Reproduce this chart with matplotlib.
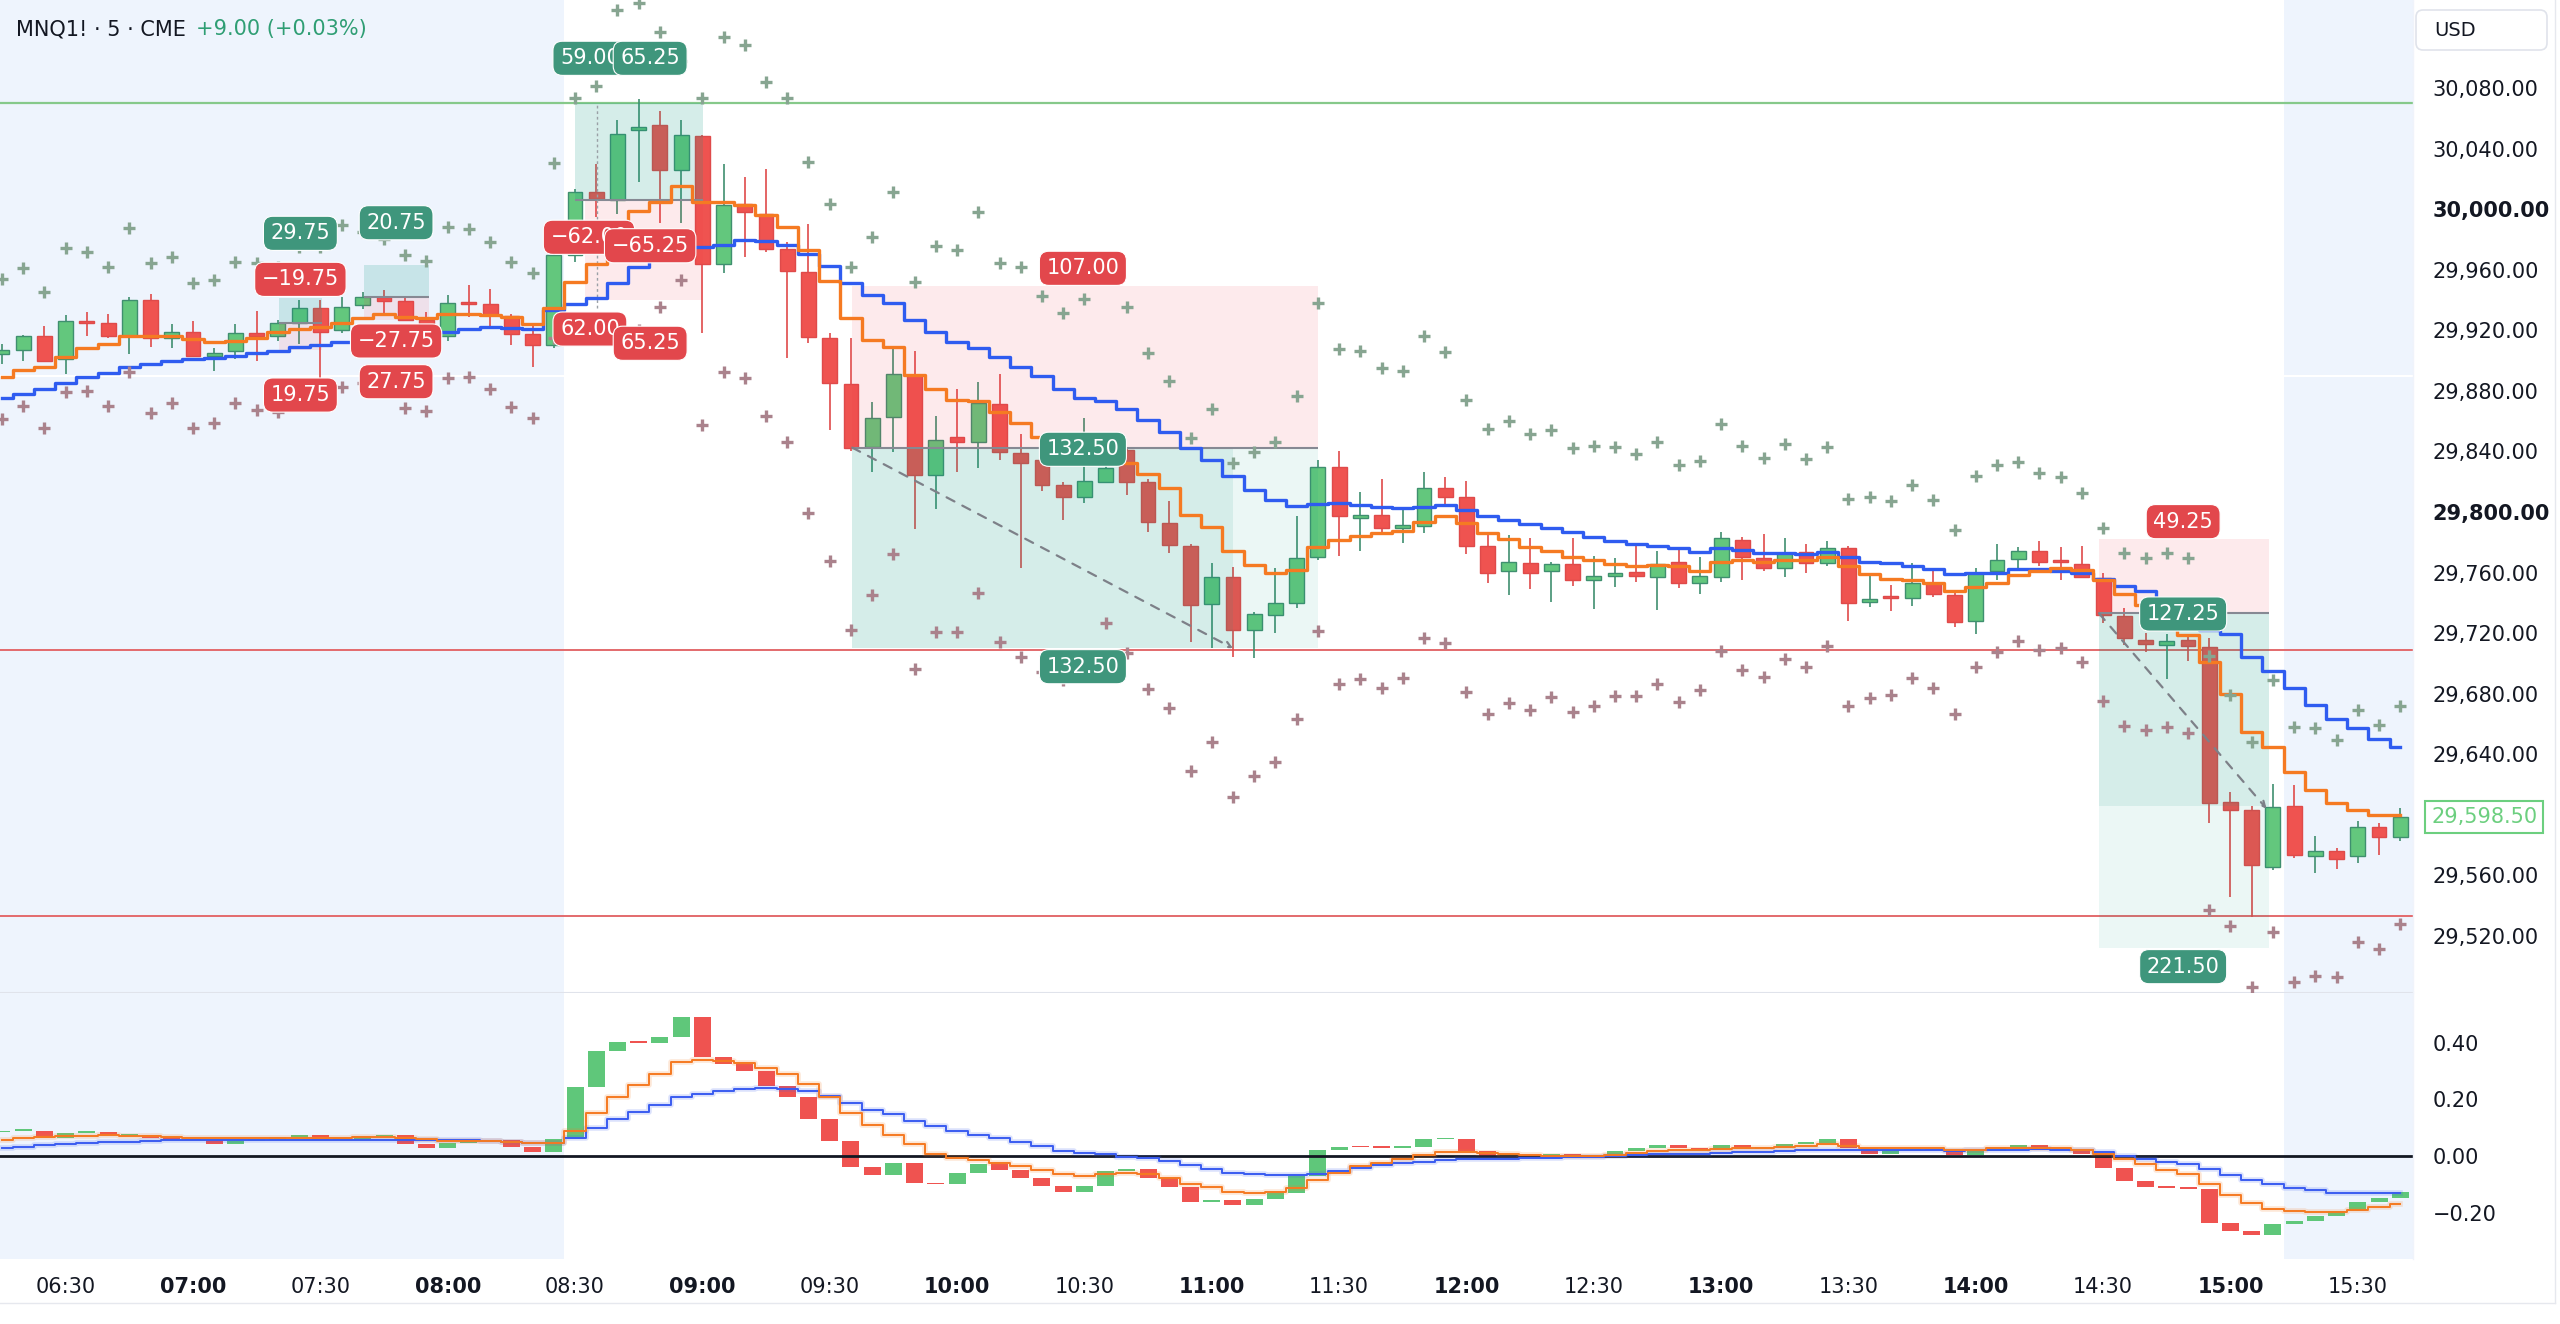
import numpy as np
import matplotlib
matplotlib.use("Agg")
import matplotlib.pyplot as plt
from matplotlib.patches import Rectangle, FancyBboxPatch

# 5 minute candles, 06:15 .. 15:40
opens = [29904, 29907, 29916, 29901, 29926, 29925, 29916, 29940, 29915, 29919,
         29903, 29906, 29918.5, 29916, 29925, 29934.5, 29920, 29936.5, 29942, 29939,
         29927, 29916, 29938.25, 29937.5, 29929.5, 29917.5, 29910, 29970, 30011, 30006,
         30052, 30055.5, 30026, 30048, 29964, 30003.5, 29997, 29973.5, 29958.75, 29914.75,
         29884.5, 29843, 29863, 29890.5, 29824.5, 29849.25, 29846.5, 29871.25, 29839.25, 29834,
         29817.5, 29809.75, 29820, 29841, 29820, 29793, 29777.5, 29739.25, 29757.25, 29722,
         29732, 29739.75, 29770.5, 29829.5, 29796.25, 29798, 29789.5, 29790.75, 29815.5, 29809.75,
         29777.5, 29761, 29766.5, 29761, 29765.5, 29755, 29758, 29760.5, 29756.75, 29767,
         29752.75, 29756.75, 29781.5, 29769.75, 29762.75, 29773.25, 29766, 29776, 29740.75, 29743.5,
         29743, 29752.75, 29745, 29728.25, 29761.25, 29768.75, 29774.5, 29767.5, 29765.5, 29756.5,
         29731, 29715.5, 29712, 29715.5, 29711, 29608.25, 29603.25, 29565.25, 29605.75, 29572.75,
         29575.75, 29572.75, 29592.25, 29585.5]
highs = [29911, 29917, 29923, 29930, 29932, 29931, 29942, 29944, 29924, 29926,
         29908, 29924, 29933, 29927, 29940, 29940, 29942, 29945, 29946.5, 29942,
         29932, 29943.5, 29950, 29947, 29931, 29922.5, 29972, 30013, 30030, 30059,
         30072.75, 30065, 30059, 30049, 30030, 30021, 30026.25, 29978.5, 29990, 29918.5,
         29914.75, 29872.75, 29907.5, 29906, 29863.5, 29881.5, 29886, 29891, 29851.25, 29836,
         29820, 29861.75, 29832, 29843, 29822, 29807.5, 29779, 29766, 29763.5, 29734.25,
         29762.75, 29797, 29834, 29840.5, 29813, 29821.75, 29803, 29826.25, 29823, 29820.5,
         29787, 29784.75, 29782.5, 29767, 29782.5, 29771, 29769.75, 29779.25, 29774.5, 29775.25,
         29770.5, 29786.5, 29783.75, 29785.5, 29782.5, 29778.75, 29781, 29777.5, 29759.5, 29751.75,
         29766.5, 29762.75, 29747.25, 29763.25, 29778.75, 29777, 29780.75, 29777, 29777.75, 29760,
         29736.5, 29720.25, 29719.5, 29719.5, 29716.5, 29615.25, 29605.5, 29620.5, 29619.75, 29586,
         29578, 29596, 29594.75, 29604.75]
lows = [29898, 29900, 29899, 29891, 29916, 29915, 29904, 29909, 29908, 29902,
        29893, 29901, 29900, 29913, 29911, 29866, 29918, 29934, 29931, 29926,
        29914, 29913, 29929, 29922, 29910, 29896, 29908, 29965, 29995, 29997,
        30018, 29990.5, 29990.5, 29918, 29957.5, 29968.5, 29972, 29901.5, 29911.5, 29854,
        29840, 29826.5, 29839.75, 29789, 29802, 29826.5, 29828.75, 29834.25, 29762.75, 29814,
        29794.75, 29805.75, 29819, 29811.25, 29787, 29772.75, 29714.25, 29710, 29704.5, 29703.25,
        29720.25, 29736.5, 29768, 29771, 29774.25, 29784.75, 29779.25, 29786.25, 29803.5, 29772,
        29752.75, 29745, 29749, 29740.75, 29751.25, 29736, 29750.5, 29754, 29735.25, 29749.5,
        29745.75, 29753.5, 29755, 29761, 29756.75, 29760, 29764, 29728.25, 29737, 29734.75,
        29738, 29743.5, 29724.25, 29719.5, 29754.75, 29762, 29764.25, 29755, 29756.25, 29726.5,
        29712, 29707.75, 29690, 29701.5, 29594.5, 29546, 29532.75, 29563.5, 29571.75, 29561.25,
        29564, 29568, 29573.5, 29582.75]
closes = [29907, 29916, 29900, 29926, 29925, 29916, 29940, 29915, 29919, 29903,
          29905, 29918, 29916, 29925, 29934.5, 29919, 29935.5, 29942, 29939.5, 29927,
          29916, 29938, 29937.5, 29930, 29917.5, 29910, 29970, 30011.5, 30006.5, 30049.5,
          30054.5, 30026, 30049, 29964, 30002.75, 29998.25, 29973.5, 29959.25, 29915.25, 29885,
          29842, 29862.25, 29891, 29824.5, 29847.5, 29846.5, 29871.75, 29839.75, 29832.5, 29817.75,
          29810, 29820.75, 29828.75, 29820, 29793.5, 29778.25, 29738.5, 29757.25, 29722, 29732.5,
          29739.75, 29769.5, 29829.5, 29797, 29798, 29789.25, 29791.25, 29815.5, 29809.75, 29777.5,
          29760, 29767, 29759.5, 29765.5, 29755, 29757.75, 29760, 29757.75, 29765.5, 29752.75,
          29757.75, 29782.5, 29770, 29762.75, 29773, 29766.5, 29776.5, 29740, 29742.5, 29743,
          29753.25, 29745.5, 29727, 29760, 29768.25, 29774.5, 29767.25, 29767, 29757.25, 29732,
          29716.5, 29712.5, 29715, 29711.75, 29607.5, 29603.25, 29566.75, 29605, 29573.5, 29575.75,
          29570.5, 29592.25, 29585, 29598.5]

# moving averages (step lines)
ma_fast = [29889, 29894, 29896, 29902, 29908, 29911, 29916, 29916, 29916, 29914,
           29912, 29913, 29915, 29919, 29921, 29922, 29925, 29928, 29931, 29929,
           29928, 29931, 29931, 29930, 29929, 29924, 29935, 29952, 29964, 29984,
           29999, 30005, 30015, 30005, 30004.5, 30002.5, 29996, 29988.5, 29973, 29952.5,
           29928, 29913.5, 29909, 29890.5, 29881.5, 29874, 29873, 29866, 29858.5, 29849.5,
           29845, 29840, 29836, 29832, 29825, 29815.5, 29798, 29790, 29774, 29765,
           29759.5, 29761.5, 29777, 29781.5, 29784, 29786, 29787.5, 29793.5, 29797.5, 29793,
           29786, 29782, 29777, 29774, 29770.5, 29768, 29765.5, 29764.5, 29765, 29764,
           29761, 29767, 29768, 29767, 29768, 29768, 29770.5, 29764, 29759, 29756,
           29755, 29753, 29747.5, 29750.5, 29753, 29758.5, 29761, 29763, 29761.5, 29755,
           29746, 29738.5, 29728, 29718.5, 29701, 29680, 29655, 29645, 29628.5, 29616.5,
           29607.5, 29603, 29600, 29600]
ma_slow = [29875, 29878, 29881, 29885, 29889, 29891.5, 29896, 29898, 29900, 29901,
           29901.5, 29903, 29905, 29906.5, 29909, 29910, 29912.5, 29913, 29914, 29915,
           29917, 29919, 29921, 29922, 29921.5, 29921, 29933.5, 29937.5, 29941, 29951,
           29962, 29967, 29971, 29975, 29976.5, 29979.5, 29979, 29976.5, 29970.5, 29962.5,
           29951, 29943.5, 29938, 29927, 29919, 29912.5, 29908, 29902, 29896, 29889.5,
           29881, 29875, 29873, 29868, 29860.5, 29853, 29842, 29834.5, 29823.5, 29814.5,
           29808, 29804, 29805.5, 29806, 29804.5, 29803, 29802.5, 29803.5, 29804.5, 29801.5,
           29797.5, 29795, 29792, 29789.5, 29786.5, 29783.5, 29781, 29779, 29777.5, 29776,
           29773.5, 29776, 29775, 29773, 29773, 29772.5, 29773.5, 29770, 29767, 29766,
           29764, 29762, 29759, 29759.5, 29760, 29762, 29762, 29761, 29759.5, 29755.5,
           29751, 29747.5, 29738, 29730, 29722, 29719.5, 29704.5, 29695, 29683.5, 29672.5,
           29663.5, 29657, 29650, 29645]

# band crosses above / below price
band_up = [29953.6, 29961, 29945.5, 29974, 29972, 29962, 29987.3, 29964.3, 29968.5, 29951,
           29953.2, 29965.3, 29964.5, 29962, 29975, 29975, 29989.5, 29985, 29980, 29969.7,
           29966, 29988.4, 29986.6, 29978.1, 29965.3, 29958, 30030.2, 30073.6, 30081.3, 30131.5,
           30136.3, 30117.2, 30098, 30073.2, 30113.9, 30108.4, 30083.7, 30073.2, 30031.3, 30003.2,
           29962, 29981.4, 30011.5, 29951.6, 29975.9, 29973, 29997.9, 29964.2, 29962, 29942.6,
           29931.6, 29940.6, 29955, 29935.1, 29905.2, 29886.5, 29849.1, 29868, 29832.1, 29839.8,
           29846, 29876.6, 29938.2, 29907.4, 29906.3, 29894.9, 29893.3, 29916.2, 29905.4, 29873.9,
           29854.7, 29860, 29851.2, 29854.1, 29842, 29843.5, 29843.1, 29838.2, 29846.4, 29831,
           29833.8, 29858, 29843.5, 29835.4, 29844.6, 29834.7, 29843.1, 29808.5, 29810.1, 29807.2,
           29817.8, 29807.9, 29788.1, 29823.7, 29831, 29833, 29826, 29823, 29812.7, 29789.6,
           29773.1, 29769.4, 29772.7, 29769.8, 29705, 29679.1, 29648.3, 29689, 29658.2, 29657.1,
           29649.4, 29669.2, 29659.3, 29671.8]
band_dn = [29861.2, 29870, 29855.2, 29879, 29880.1, 29870, 29892.2, 29865.6, 29871.7, 29855.2,
           29858.5, 29872.2, 29867.3, 29866, 29878, 29876, 29882.7, 29885, 29880, 29868.4,
           29866.7, 29888.3, 29888.9, 29881, 29869.5, 29861.8, 29915, 29918, 29922, 29918,
           29920, 29935.6, 29953.2, 29857.4, 29892.6, 29888.2, 29863.4, 29846.4, 29799.1, 29767.6,
           29722, 29745.1, 29772.2, 29696.3, 29720.9, 29720.5, 29746.7, 29714.3, 29704, 29694,
           29689, 29700, 29726.9, 29706.6, 29682.8, 29670.3, 29629.1, 29648.3, 29611.5, 29625.6,
           29635.1, 29663, 29721.6, 29686.4, 29690, 29683.5, 29690.1, 29716.5, 29713.7, 29681.3,
           29666.5, 29674, 29669.2, 29677.6, 29668.1, 29671.8, 29678.4, 29678.4, 29686.4, 29674.7,
           29682.4, 29708.2, 29695.6, 29690.8, 29702.9, 29697.8, 29711.4, 29671.8, 29676.9, 29679.1,
           29690.5, 29683.5, 29666.3, 29697.8, 29707.3, 29714.8, 29708.8, 29709.9, 29701.1, 29675.1,
           29658.6, 29656, 29658.2, 29653.8, 29537.1, 29526.8, 29486.5, 29522.4, 29489.8, 29493.8,
           29493.1, 29515.8, 29511.2, 29527.9]

# oscillator panel
osc = [0.088, 0.088, 0.065, 0.082, 0.084, 0.073, 0.076, 0.065, 0.061, 0.055,
       0.043, 0.053, 0.055, 0.067, 0.073, 0.056, 0.060, 0.070, 0.073, 0.043,
       0.027, 0.047, 0.050, 0.055, 0.033, 0.014, 0.061, 0.244, 0.372, 0.403,
       0.399, 0.419, 0.489, 0.349, 0.325, 0.299, 0.246, 0.208, 0.129, 0.053,
       -0.038, -0.068, -0.026, -0.096, -0.100, -0.059, -0.029, -0.050, -0.079, -0.106,
       -0.127, -0.106, -0.053, -0.047, -0.076, -0.109, -0.162, -0.156, -0.174, -0.153,
       -0.129, -0.070, 0.020, 0.032, 0.031, 0.030, 0.033, 0.059, 0.061, 0.018,
       -0.002, 0.008, -0.006, 0.006, 0.000, -0.002, 0.018, 0.029, 0.038, 0.029,
       0.023, 0.038, 0.026, 0.029, 0.043, 0.047, 0.059, 0.029, 0.009, 0.020,
       0.023, 0.020, 0.002, 0.018, 0.032, 0.038, 0.023, 0.020, 0.006, -0.043,
       -0.088, -0.109, -0.112, -0.115, -0.235, -0.266, -0.278, -0.241, -0.229, -0.211,
       -0.194, -0.162, -0.147, -0.126]
osc_fast = [0.055, 0.062, 0.068, 0.070, 0.070, 0.073, 0.070, 0.070, 0.068, 0.065,
            0.062, 0.062, 0.062, 0.065, 0.065, 0.065, 0.065, 0.066, 0.067, 0.062,
            0.059, 0.053, 0.053, 0.053, 0.050, 0.047, 0.047, 0.090, 0.153, 0.208,
            0.252, 0.288, 0.332, 0.340, 0.335, 0.329, 0.309, 0.290, 0.255, 0.208,
            0.153, 0.108, 0.076, 0.041, 0.009, -0.006, -0.015, -0.023, -0.035, -0.049,
            -0.062, -0.070, -0.065, -0.061, -0.065, -0.079, -0.097, -0.109, -0.125, -0.129,
            -0.127, -0.112, -0.086, -0.059, -0.035, -0.023, -0.012, 0.004, 0.015, 0.015,
            0.012, 0.006, 0.004, 0.000, 0.000, 0.000, 0.004, 0.012, 0.018, 0.021,
            0.023, 0.026, 0.027, 0.029, 0.032, 0.035, 0.041, 0.035, 0.029, 0.027,
            0.027, 0.027, 0.023, 0.023, 0.027, 0.029, 0.029, 0.027, 0.020, 0.006,
            -0.012, -0.029, -0.049, -0.065, -0.097, -0.137, -0.164, -0.188, -0.194, -0.196,
            -0.196, -0.190, -0.180, -0.168]
osc_slow = [0.027, 0.033, 0.038, 0.041, 0.047, 0.050, 0.050, 0.053, 0.056, 0.056,
            0.055, 0.056, 0.057, 0.057, 0.058, 0.058, 0.058, 0.058, 0.058, 0.058,
            0.057, 0.056, 0.055, 0.053, 0.050, 0.047, 0.047, 0.065, 0.100, 0.129,
            0.156, 0.180, 0.208, 0.219, 0.229, 0.235, 0.241, 0.238, 0.231, 0.211,
            0.188, 0.164, 0.147, 0.123, 0.106, 0.088, 0.074, 0.065, 0.050, 0.035,
            0.018, 0.012, 0.006, -0.002, -0.006, -0.018, -0.032, -0.045, -0.059, -0.065,
            -0.067, -0.068, -0.062, -0.053, -0.043, -0.032, -0.026, -0.021, -0.015, -0.012,
            -0.012, -0.009, -0.008, -0.006, -0.003, -0.002, 0.000, 0.002, 0.006, 0.008,
            0.009, 0.012, 0.014, 0.014, 0.018, 0.020, 0.022, 0.022, 0.021, 0.021,
            0.021, 0.020, 0.019, 0.020, 0.022, 0.023, 0.024, 0.023, 0.021, 0.015,
            0.000, -0.012, -0.020, -0.029, -0.047, -0.067, -0.084, -0.100, -0.112, -0.121,
            -0.129, -0.131, -0.131, -0.131]

price_ticks = [30080, 30040, 30000, 29960, 29920, 29880, 29840, 29800, 29760,
               29720, 29680, 29640, 29560, 29520]
bold_ticks = [30000, 29800]
time_pos = [3, 9, 15, 21, 27, 33, 39, 45, 51, 57, 63, 69, 75, 81, 87, 93, 99, 105, 111]
time_labels = ["06:30", "07:00", "07:30", "08:00", "08:30", "09:00", "09:30", "10:00",
               "10:30", "11:00", "11:30", "12:00", "12:30", "13:00", "13:30", "14:00",
               "14:30", "15:00", "15:30"]

# horizontal levels
level_green = 30070
level_red = [29709, 29533]

# position tool labels: x, price, text, kind
labels = [
    (14.06, 29984.0, "29.75", "g"), (14.06, 29953.6, "\u221219.75", "r"), (14.06, 29877.2, "19.75", "r"),
    (18.57, 29991.0, "20.75", "g"), (18.57, 29912.9, "\u221227.75", "r"), (18.57, 29886.0, "27.75", "r"),
    (27.7, 30099.6, "59.00", "g"), (30.54, 30099.6, "65.25", "g"),
    (27.66, 29981.4, "\u221262.00", "r"), (30.54, 29975.8, "\u221265.25", "r"),
    (27.7, 29920.8, "62.00", "r"), (30.54, 29911.4, "65.25", "r"),
    (50.93, 29960.9, "107.00", "r"), (50.93, 29841.4, "132.50", "g"), (50.93, 29697.8, "132.50", "g"),
    (102.77, 29793.6, "49.25", "r"), (102.77, 29732.6, "127.25", "g"), (102.77, 29499.7, "221.50", "g"),
]

GREEN = "#63c77d"
GREEN_EDGE = "#3f8f6f"
RED = "#ef5350"
RED_EDGE = "#df4a4a"
BG_SESSION = "#eef4fd"
TEAL = (8 / 255, 153 / 255, 129 / 255, 0.17)
TEAL_LIGHT = (8 / 255, 153 / 255, 129 / 255, 0.08)
PINK = (242 / 255, 54 / 255, 69 / 255, 0.10)
TXT = "#131722"

W, H = 2560, 1324
fig = plt.figure(figsize=(W / 100, H / 100), dpi=100)
fig.patch.set_facecolor("white")

ax = fig.add_axes([0, 1 - 993 / H, 2413 / W, 993 / H])
ax2 = fig.add_axes([0, 65 / H, 2413 / W, 266 / H])

idx = np.arange(len(closes))
o = np.array(opens)
c = np.array(closes)
up = c >= o

for a in (ax, ax2):
    a.set_xlim(-0.094, 113.6)
    a.axvspan(-1, 26.5, color=BG_SESSION, lw=0, zorder=0)
    a.axvspan(107.5, 115, color=BG_SESSION, lw=0, zorder=0)
    for s in a.spines.values():
        s.set_visible(False)

ax.set_ylim(29482.3, 30138.1)
ax2.set_ylim(-0.363, 0.575)

# ---- main panel -------------------------------------------------------------
ax.axhline(29890, color="white", lw=1.5, zorder=0.5)
ax.axhline(level_green, color="#86c98a", lw=1.6, zorder=1)
for lv in level_red:
    ax.axhline(lv, color="#e36a6d", lw=1.4, zorder=1)

ax.vlines(idx, lows, highs, colors=np.where(up, GREEN_EDGE, RED_EDGE), lw=1.2, zorder=2)
ax.bar(idx, np.maximum(np.abs(c - o), 1.3), bottom=np.minimum(o, c), width=0.7,
       color=np.where(up, GREEN, RED), edgecolor=np.where(up, GREEN_EDGE, RED_EDGE),
       lw=1, zorder=2.1)


def pos_box(x0, x1, entry, risk, reward, reward_far=None, split=None, risk_x0=None):
    rx0 = x0 if risk_x0 is None else risk_x0
    ax.add_patch(Rectangle((rx0, min(entry, risk)), x1 - rx0, abs(risk - entry),
                           fc=PINK, ec="none", zorder=3))
    xs = x1 if split is None else split
    ax.add_patch(Rectangle((x0, min(entry, reward)), xs - x0, abs(reward - entry),
                           fc=TEAL, ec="none", zorder=3))
    if split is not None:
        ax.add_patch(Rectangle((split, min(entry, reward)), x1 - split, abs(reward - entry),
                               fc=TEAL_LIGHT, ec="none", zorder=3))
    if reward_far is not None:
        ax.add_patch(Rectangle((x0, min(reward, reward_far)), x1 - x0, abs(reward_far - reward),
                               fc=TEAL_LIGHT, ec="none", zorder=3))
    ax.hlines(entry, x0, x1, color="#868993", lw=1.5, zorder=3.5)


pos_box(13.07, 15.06, 29924.6, 29907.0, 29941.1)
pos_box(17.04, 20.10, 29942.2, 29926.8, 29963.0)
pos_box(27.0, 33.04, 30006.0, 29940.0, 30070.0, risk_x0=27.47)
ax.vlines(28.04, 29935, 30070, color="#9aa0a6", lw=1, ls=(0, (2, 2)), zorder=3.5)
pos_box(40.06, 62.0, 29842.5, 29949.5, 29710.0, split=58.0)
pos_box(98.8, 106.8, 29733.1, 29782.3, 29605.8, reward_far=29511.7)

for start, end in [((40.06, 29842.5), (58.0, 29710.0)), ((98.8, 29733.1), (106.7, 29604.0))]:
    ax.annotate("", xy=end, xytext=start, zorder=3.6,
                arrowprops=dict(arrowstyle="->", color="#7d8088", lw=1.6,
                                linestyle=(0, (4, 4)), shrinkA=0, shrinkB=0))

ax.step(idx, ma_slow, where="mid", color="#2f5cf0", lw=2.4, zorder=4)
ax.step(idx, ma_fast, where="mid", color="#f57a22", lw=2.4, zorder=4.1)

ax.plot(idx, band_up, ls="none", marker="+", ms=8.5, mew=2.4, color="#87a591", zorder=4.2)
ax.plot(idx, band_dn, ls="none", marker="+", ms=8.5, mew=2.4, color="#aa828c", zorder=4.2)

for x, y, s, kind in labels:
    fc = "#3f967c" if kind == "g" else "#e2474c"
    ax.text(x, y, s, ha="center", va="center", fontsize=15, color="white", zorder=6,
            bbox=dict(boxstyle="round,pad=0.34,rounding_size=0.45", fc=fc, ec="white", lw=0.8))

ax.set_xticks([])
ax.yaxis.tick_right()
ax.set_yticks(price_ticks)
ax.set_yticklabels(["{:,.2f}".format(t) for t in price_ticks])
ax.tick_params(axis="y", length=0, pad=14, labelsize=15, labelcolor=TXT)
for t, lab in zip(price_ticks, ax.get_yticklabels()):
    if t in bold_ticks:
        lab.set_fontweight("bold")

ax.spines["bottom"].set_visible(True)
ax.spines["bottom"].set_color("#e0e3eb")
ax.spines["bottom"].set_linewidth(1.5)

# last price tag
ax.text(1.0075, closes[-1], "{:,.2f}".format(closes[-1]), transform=ax.get_yaxis_transform(),
        ha="left", va="center", fontsize=15, color="#6ccf7f", clip_on=False, zorder=10,
        bbox=dict(boxstyle="square,pad=0.3", fc="white", ec="#6ccf7f", lw=1.5))

# ---- oscillator panel ---------------------------------------------------------
osc_a = np.array(osc)
prev = np.concatenate([[osc_a[0] - 0.004], osc_a[:-1]])
rising = osc_a >= prev
ax2.bar(idx, np.maximum(np.abs(osc_a - prev), 0.006), bottom=np.minimum(osc_a, prev),
        width=0.8, color=np.where(rising, "#5fc77a", "#ef5350"), lw=0, zorder=2)
ax2.axhline(0, color=TXT, lw=2, zorder=3)
ax2.step(idx, osc_slow, where="mid", color="#3a5cf0", lw=4, alpha=0.18, zorder=3.5)
ax2.step(idx, osc_fast, where="mid", color="#f57a22", lw=4, alpha=0.18, zorder=3.5)
ax2.step(idx, osc_slow, where="mid", color="#3a5cf0", lw=1.4, zorder=4)
ax2.step(idx, osc_fast, where="mid", color="#f57a22", lw=1.4, zorder=4)

ax2.yaxis.tick_right()
ax2.set_yticks([0.4, 0.2, 0.0, -0.2])
ax2.set_yticklabels(["0.40", "0.20", "0.00", "\u22120.20"])
ax2.tick_params(axis="y", length=0, pad=14, labelsize=15, labelcolor=TXT)

ax2.set_xticks(time_pos)
ax2.set_xticklabels(time_labels)
ax2.tick_params(axis="x", length=0, pad=13, labelsize=15, labelcolor=TXT)
for lab in ax2.get_xticklabels():
    if lab.get_text().endswith(":00"):
        lab.set_fontweight("bold")

# ---- header and frame ---------------------------------------------------------
fig.text(16 / W, 1 - 29 / H, "MNQ1! \u00b7 5 \u00b7 CME", fontsize=15, color=TXT, va="center")
fig.text(196 / W, 1 - 29 / H, "+9.00 (+0.03%)", fontsize=15, color="#2f9e74", va="center")

fig.patches.append(FancyBboxPatch((24.16, 12.74), 1.31, 0.40,
                                  boxstyle="round,pad=0,rounding_size=0.07",
                                  transform=fig.dpi_scale_trans, fc="white", ec="#e0e3eb", lw=1.2))
fig.text(24.34 / 25.6, 12.94 / 13.24, "USD", fontsize=14, color=TXT, va="center")

fig.add_artist(plt.Line2D([2413 / W, 2413 / W], [1 - 1259 / H, 1], color="#f0f3fa", lw=1))
fig.add_artist(plt.Line2D([0, 2555 / W], [1 - 1303 / H, 1 - 1303 / H], color="#e6e8ee", lw=1))
fig.add_artist(plt.Line2D([2555 / W, 2555 / W], [1 - 1303 / H, 1], color="#e6e8ee", lw=1))

fig.savefig("out.png", dpi=100)
